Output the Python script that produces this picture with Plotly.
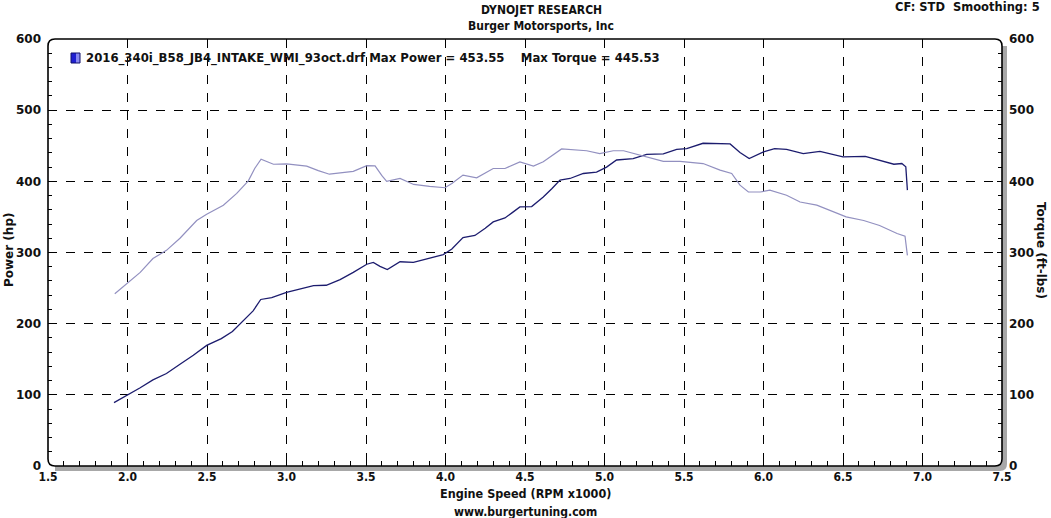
import plotly.graph_objects as go

# ---- data ----
power_rpm = [1.915, 2.005, 2.08, 2.16, 2.245, 2.33, 2.414, 2.498, 2.59, 2.66, 2.72, 2.79, 2.838,
             2.907, 3.0, 3.08, 3.17, 3.25, 3.337, 3.42, 3.505, 3.546, 3.588, 3.634, 3.714, 3.798,
             3.90, 3.986, 4.04, 4.11, 4.185, 4.25, 4.30, 4.374, 4.42, 4.468, 4.542, 4.615, 4.67,
             4.72, 4.783, 4.867, 4.95, 5.013, 5.076, 5.18, 5.265, 5.37, 5.454, 5.517, 5.62, 5.70,
             5.79, 5.852, 5.91, 6.0, 6.07, 6.145, 6.25, 6.355, 6.50, 6.64, 6.71, 6.82, 6.87,
             6.895, 6.905]
power_hp = [89, 100, 110, 121, 130, 143, 155.5, 169.5, 179, 189, 202, 218, 234,
            236.6, 244, 248, 253.5, 254, 262, 272, 283.5, 286, 280.6, 276, 287, 286,
            291.5, 297, 305, 321, 324, 334, 343, 348.6, 356, 364, 364.6, 378, 390,
            401.7, 404, 411, 413, 420, 430, 432, 437.8, 438.7, 445, 446, 453.5, 453.5,
            452.5, 440.6, 432, 441.5, 446, 445, 439, 442, 434.4, 435, 430.8, 424, 425,
            420.5, 387.6]

torque_rpm = [1.92, 2.005, 2.08, 2.16, 2.245, 2.33, 2.435, 2.498, 2.603, 2.687, 2.76, 2.80, 2.84,
              2.918, 3.0, 3.127, 3.2, 3.27, 3.42, 3.505, 3.557, 3.60, 3.63, 3.714, 3.80, 3.90,
              3.997, 4.04, 4.11, 4.196, 4.30, 4.374, 4.468, 4.553, 4.615, 4.73, 4.805, 4.888,
              4.97, 5.055, 5.12, 5.20, 5.265, 5.37, 5.475, 5.62, 5.727, 5.80, 5.852, 5.905,
              5.98, 6.04, 6.145, 6.23, 6.335, 6.44, 6.52, 6.63, 6.73, 6.84, 6.89, 6.905]
torque_ftlb = [242, 258.6, 272, 291.5, 303, 320, 345, 353.8, 366.5, 383, 400.7, 418, 431,
               424, 424.6, 421.4, 415, 410, 414, 422, 421.8, 408, 400, 404, 395.6, 393,
               391, 397, 408.7, 405, 418, 418, 427.4, 421.4, 427.4, 445.5, 444, 443,
               439, 443, 443, 438, 434.4, 428, 428, 425, 415.7, 411, 394.6, 385,
               385, 387.6, 380.5, 371, 366.5, 357, 350, 345, 338, 326.7, 323, 296]

x_ticks = [1.5, 2.0, 2.5, 3.0, 3.5, 4.0, 4.5, 5.0, 5.5, 6.0, 6.5, 7.0, 7.5]
y_ticks = [0, 100, 200, 300, 400, 500, 600]

legend_text = "2016_340i_B58_JB4_INTAKE_WMI_93oct.drf Max Power = 453.55    Max Torque = 445.53"

W, H = 1051, 518
L, R, T, B = 48, 49, 39, 52
pw, ph = W - L - R, H - T - B

def px(x):
    return (x - L) / pw

def py(y):
    return (H - B - y) / ph

FONT = "DejaVu Sans"
BOLD_COND = "DejaVu Sans Condensed"

fig = go.Figure()
fig.add_trace(go.Scatter(x=power_rpm, y=power_hp, mode="lines",
                         line=dict(color="#1c1c6e", width=1.3), showlegend=False))
fig.add_trace(go.Scatter(x=torque_rpm, y=torque_ftlb, mode="lines", yaxis="y2",
                         line=dict(color="#9290c0", width=1.2), showlegend=False))

tickfont = dict(family=FONT, size=12, color="#111111", weight="bold")

fig.update_layout(
    width=W, height=H,
    margin=dict(l=L, r=R, t=T, b=B),
    paper_bgcolor="white", plot_bgcolor="white",
    xaxis=dict(range=[1.5, 7.5], tickvals=x_ticks, ticktext=[f"{v:.1f}" for v in x_ticks],
               showgrid=True, gridcolor="black", griddash="dash", gridwidth=1,
               ticks="inside", ticklen=5, tickcolor="black",
               minor=dict(dtick=0.1, ticks="inside", ticklen=5, tickcolor="black", showgrid=False),
               showline=False, zeroline=False, ticklabelstandoff=2,
               tickfont=dict(family=BOLD_COND, size=12, color="#111111", weight="bold")),
    yaxis=dict(range=[0, 600], tickvals=y_ticks, showgrid=True, gridcolor="black",
               griddash="dash", gridwidth=1, ticks="inside", ticklen=5, tickcolor="black",
               minor=dict(dtick=20, ticks="inside", ticklen=4, tickcolor="black", showgrid=False),
               showline=False, zeroline=False, tickfont=tickfont, ticklabelstandoff=6),
    yaxis2=dict(range=[0, 600], tickvals=y_ticks, overlaying="y", side="right",
                showgrid=False, ticks="inside", ticklen=5, tickcolor="black",
                minor=dict(dtick=20, ticks="inside", ticklen=4, tickcolor="black"),
                showline=False, zeroline=False, tickfont=tickfont, ticklabelstandoff=6),
)

# shadow (right & bottom) and rounded frame
r_x, r_y = 7 / pw, 7 / ph
sx, sy = 5 / pw, 5 / ph
fig.add_shape(type="path", xref="paper", yref="paper",
              path=(f"M {1+sx},{1-r_y} L {1+sx},{-sy+r_y} Q {1+sx},{-sy} {1+sx-r_x},{-sy} "
                    f"L {r_x},{-sy} L {r_x},0 L {1-r_x},0 Q 1,0 1,{r_y} L 1,{1-r_y} Z"),
              fillcolor="#a8a8a8", line=dict(width=0), layer="below")
fig.add_shape(type="path", xref="paper", yref="paper",
              path=(f"M {r_x},1 L {1-r_x},1 Q 1,1 1,{1-r_y} L 1,{r_y} Q 1,0 {1-r_x},0 "
                    f"L {r_x},0 Q 0,0 0,{r_y} L 0,{1-r_y} Q 0,1 {r_x},1 Z"),
              line=dict(color="black", width=1.6), fillcolor="rgba(0,0,0,0)", layer="above")

# legend marker
fig.add_shape(type="rect", xref="paper", yref="paper",
              x0=px(71), x1=px(76), y0=py(63), y1=py(53),
              fillcolor="#2020d0", line=dict(width=0))
fig.add_shape(type="rect", xref="paper", yref="paper",
              x0=px(76), x1=px(80), y0=py(63), y1=py(53),
              fillcolor="#8888f0", line=dict(width=0))
fig.add_shape(type="rect", xref="paper", yref="paper",
              x0=px(71), x1=px(80), y0=py(63), y1=py(53),
              fillcolor="rgba(0,0,0,0)", line=dict(color="#10106a", width=1))

ann_font = dict(family=FONT, size=12, color="#111111", weight="bold")
anns = [
    dict(text=legend_text, x=px(84), y=py(58), xanchor="left", yanchor="middle",
         font=dict(family=FONT, size=11.7, color="#111111", weight="bold")),
    dict(text="DYNOJET RESEARCH", x=px(541), y=py(10), xanchor="center", yanchor="middle",
         font=dict(family=BOLD_COND, size=12, color="#111111", weight="bold")),
    dict(text="Burger Motorsports, Inc", x=px(541), y=py(26), xanchor="center", yanchor="middle",
         font=dict(family=BOLD_COND, size=12, color="#111111", weight="bold")),
    dict(text="CF: STD  Smoothing: 5", x=px(1042), y=py(7), xanchor="right", yanchor="middle",
         font=dict(family=FONT, size=11.5, color="#111111", weight="bold")),
    dict(text="Engine Speed (RPM x1000)", x=px(525), y=py(493), xanchor="center", yanchor="middle",
         font=dict(family=BOLD_COND, size=12.5, color="#111111", weight="bold")),
    dict(text="www.burgertuning.com", x=px(525), y=py(512), xanchor="center", yanchor="middle",
         font=dict(family=BOLD_COND, size=12, color="#111111", weight="bold")),
    dict(text="Power (hp)", x=px(9), y=py(250), xanchor="center", yanchor="middle",
         textangle=-90, font=ann_font),
    dict(text="Torque (ft-lbs)", x=px(1041), y=py(250), xanchor="center", yanchor="middle",
         textangle=90, font=ann_font),
]
for a in anns:
    fig.add_annotation(xref="paper", yref="paper", showarrow=False, **a)

fig.write_html("out.html", config={"displayModeBar": False},
               post_script="document.body.style.margin='0';document.body.style.overflow='hidden';")
